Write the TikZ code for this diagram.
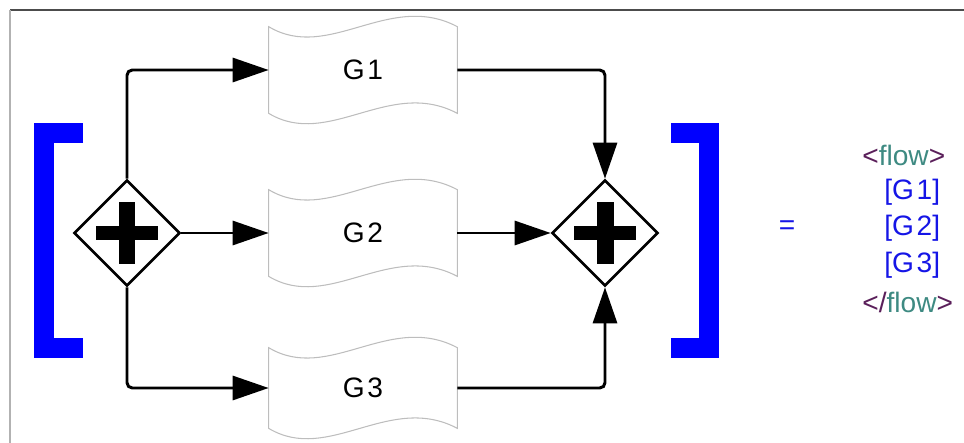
\documentclass[tikz,border=0pt]{standalone}
\usepackage{fontspec}
\setmainfont{Liberation Sans}
\usetikzlibrary{positioning,arrows.meta,shapes.geometric}
\definecolor{bracketblue}{HTML}{0000FF}
\definecolor{codeblue}{HTML}{1515E6}
\definecolor{tagpurple}{HTML}{5A1F5A}
\definecolor{flowteal}{HTML}{3E8A82}
\definecolor{waveline}{HTML}{BDBDBD}

\begin{document}
\begin{tikzpicture}[
x=0.02cm,
y=-0.02cm,
gateway/.style={
draw,
diamond,
line width=1.5pt,
minimum width=2.12cm,
minimum height=2.12cm,
inner sep=0pt
},
docbox/.style={
minimum width=3.76cm,
minimum height=1.72cm,
inner sep=0pt,
font=\fontsize{16}{19}\selectfont
},
codeline/.style={
anchor=west,
inner sep=0pt,
font=\fontsize{16}{19}\selectfont
},
flow/.style={
line width=1.7pt,
rounded corners=3pt,
-{Triangle[length=0.72cm,width=0.48cm]}
},
wavy/.style={draw=waveline,line width=0.6pt},
bracket/.style={draw=bracketblue,line width=0.4cm}
]

\useasboundingbox (0,0) rectangle (964,443);

% frame
\draw[draw=black!70,line width=0.6pt](10,10)--(964,10);
\draw[draw=black!30,line width=0.6pt](10,10)--(10,443);

% big brackets
\draw[bracket](83,133)--(44,133)--(44,348)--(83,348);
\draw[bracket](671,133)--(709,133)--(709,348)--(671,348);

\node (ldia)[gateway] at (127,233){};
\node (rdia)[gateway] at (605,233){};

\node (g1)[docbox] at (363,70){G\kern1.5pt1};
\node (g2)[docbox] at (363,233){G\kern1.5pt2};
\node (g3)[docbox,minimum height=1.6cm] at (363,388){G\kern1.5pt3};

% wavy outlines of the boxes
\foreach \g in {g1,g2,g3}{
\draw[wavy](\g.north west) .. controls +(1.2cm,-0.72cm) and +(-1.36cm,0.72cm) .. (\g.north east)
--(\g.south east) .. controls +(-1.36cm,0.72cm) and +(1.2cm,-0.72cm) .. (\g.south west)--cycle;
}

% plus marks
\foreach \d in {ldia,rdia}{
\fill([shift={(-0.62cm,-0.14cm)}]\d.center) rectangle ([shift={(0.62cm,0.14cm)}]\d.center);
\fill([shift={(-0.17cm,-0.62cm)}]\d.center) rectangle ([shift={(0.17cm,0.62cm)}]\d.center);
}

\draw[flow](ldia.north)|-(g1.west);
\draw[flow](ldia.east)--(g2.west);
\draw[flow](ldia.south)|-(g3.west);
\draw[flow](g1.east)-|(rdia.north);
\draw[flow](g2.east)--(rdia.west);
\draw[flow](g3.east)-|(rdia.south);

\node (equals)[codeline,anchor=center,text=codeblue] at (787,228){=};

\node (open)[codeline] at (862,155){\textcolor{tagpurple}{<}\textcolor{flowteal}{flow}\textcolor{tagpurple}{>}};
\node (c1)[codeline,text=codeblue] at (884,192){[G\kern1.5pt1]};
\node (c2)[codeline,text=codeblue] at (884,228){[G\kern1.5pt2]};
\node (c3)[codeline,text=codeblue] at (884,265){[G\kern1.5pt3]};
\node (close)[codeline] at (862,302){\textcolor{tagpurple}{</}\textcolor{flowteal}{flow}\textcolor{tagpurple}{>}};

\end{tikzpicture}
\end{document}
